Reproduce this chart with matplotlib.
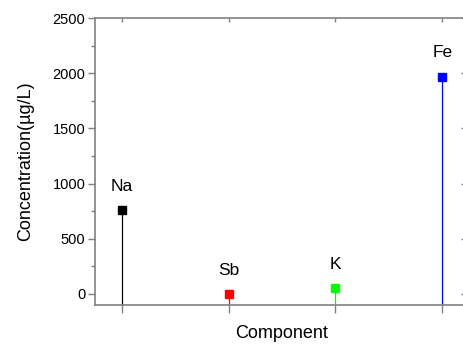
import matplotlib
matplotlib.use("Agg")
import matplotlib.pyplot as plt
from matplotlib.ticker import MultipleLocator, FixedLocator, NullFormatter

plt.rcParams['font.family'] = ['Liberation Sans', 'DejaVu Sans']

components = ["Na", "Sb", "K", "Fe"]
concentrations = [760, 0, 55, 1970]
colors = ["#000000", "#ff0000", "#00ff00", "#0000ff"]

positions = list(range(1, len(components) + 1))

fig = plt.figure(figsize=(4.64, 3.44), dpi=100)
ax = fig.add_axes([95 / 464, 39 / 344, 374 / 464, 287 / 344])

ymin, ymax = -100, 2500
ax.set_xlim(0.75, 4.25)
ax.set_ylim(ymin, ymax)

for x, v, c, name in zip(positions, concentrations, colors, components):
    ax.vlines(x, ymin, v, color=c, linewidth=0.9, zorder=2)
    ax.plot([x], [v], marker="s", markersize=6.2, color=c, linestyle="none", zorder=3)
    ax.annotate(name, xy=(x, v), xytext=(0, 17), textcoords="offset points",
                ha="center", va="center", fontsize=12.5)

spine_color = "#808080"
for s in ax.spines.values():
    s.set_color(spine_color)
    s.set_linewidth(1.2)

ax.yaxis.set_major_locator(MultipleLocator(500))
ax.yaxis.set_minor_locator(MultipleLocator(250))
ax.xaxis.set_major_locator(FixedLocator(positions))
ax.xaxis.set_major_formatter(NullFormatter())

ax.tick_params(axis="y", which="major", direction="out", length=5, width=1.0,
               color=spine_color, labelsize=10.5, pad=2)
ax.tick_params(axis="y", which="minor", direction="out", length=3, width=1.0,
               color=spine_color)
ax.tick_params(axis="x", which="major", direction="out", length=6, width=1.0,
               color=spine_color)

# inward ticks on the top and right frame edges
top = ax.secondary_xaxis("top")
top.xaxis.set_major_locator(FixedLocator(positions))
top.xaxis.set_major_formatter(NullFormatter())
top.tick_params(direction="in", length=3, width=1.0, color=spine_color)
top.spines["top"].set_visible(False)

right = ax.secondary_yaxis("right")
right.yaxis.set_major_locator(MultipleLocator(500))
right.yaxis.set_minor_locator(MultipleLocator(250))
right.yaxis.set_major_formatter(NullFormatter())
right.tick_params(which="major", direction="in", length=6, width=1.0, color=spine_color)
right.tick_params(which="minor", direction="in", length=3, width=1.0, color=spine_color)
right.spines["right"].set_visible(False)

ax.set_xlabel("Component", fontsize=13, labelpad=5)
ax.set_ylabel("Concentration(\u00b5g/L)", fontsize=13, labelpad=13)

fig.savefig("out.png", dpi=100)
